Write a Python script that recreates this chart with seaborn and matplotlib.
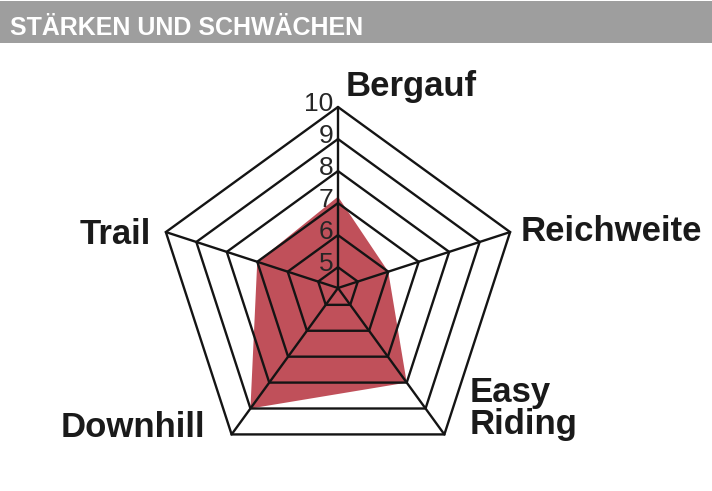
import numpy as np
import matplotlib
matplotlib.use("Agg")
import matplotlib.pyplot as plt
import seaborn as sns
from matplotlib.patches import Rectangle

## chart data
title = "STÄRKEN UND SCHWÄCHEN"
categories = ["Bergauf", "Reichweite", "Easy Riding", "Downhill", "Trail"]
scores = [7.2, 6, 8, 9, 7]
rings = [5, 6, 7, 8, 9, 10]
r_min = 4.35

sns.set_theme(style="white")
plt.rcParams["font.family"] = ["Liberation Sans", "DejaVu Sans"]

fill_col = "#C0505A"
line_col = "#141414"
W, H = 712, 491

fig = plt.figure(figsize=(W / 100, H / 100), dpi=100)
fig.patch.set_facecolor("white")

# grey title bar
fig.patches.append(Rectangle((0, 1 - 43 / H), 1, 42 / H, transform=fig.transFigure,
                             facecolor="#9E9E9E", edgecolor="none", zorder=0))
fig.text(10 / W, 1 - 35 / H, title, color="white", fontsize=18, fontweight="bold",
         va="baseline", ha="left")

ax = fig.add_axes([0.2205, 0.0448, 0.5084, 0.7373], projection="polar")
ax.set_theta_zero_location("N")
ax.set_theta_direction(-1)
ax.patch.set_alpha(0)

angles = np.linspace(0, 2 * np.pi, len(categories), endpoint=False)
closed = np.append(angles, angles[0])

ax.fill(closed, scores + scores[:1], color=fill_col, lw=0, zorder=1)

# pentagon rings + spokes
for v in rings:
    ax.plot(closed, [v] * len(closed), color=line_col, lw=1.7, zorder=2,
            clip_on=False, solid_joinstyle="miter")
for a in angles:
    ax.plot([a, a], [r_min, rings[-1]], color=line_col, lw=1.7, zorder=2, clip_on=False)

# ring numbers along the top spoke
for v in rings:
    ax.annotate(str(v), xy=(0, v), xytext=(-3.5, -3), textcoords="offset points",
                ha="right", va="baseline", fontsize=19, color="#262626",
                annotation_clip=False, zorder=3)

ax.set_ylim(r_min, rings[-1])
ax.set_xticks([])
ax.set_yticks([])
ax.grid(False)
ax.spines["polar"].set_visible(False)

# axis labels
lab = dict(fontsize=25, fontweight="bold", color="#1a1a1a", va="baseline")
fig.text(346 / W, 1 - 96 / H, categories[0], ha="left", **lab)
fig.text(521 / W, 1 - 241 / H, categories[1], ha="left", **lab)
easy, riding = categories[2].split()
fig.text(470 / W, 1 - 402 / H, easy, ha="left", **lab)
fig.text(470 / W, 1 - 434 / H, riding, ha="left", **lab)
fig.text(61 / W, 1 - 437 / H, categories[3], ha="left", **lab)
fig.text(151 / W, 1 - 244 / H, categories[4], ha="right", **lab)

fig.savefig("out.png", dpi=100)
